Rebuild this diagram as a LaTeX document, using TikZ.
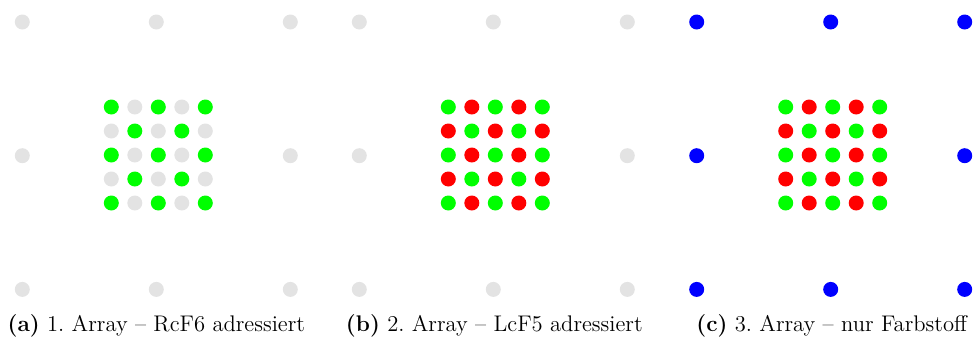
\documentclass[tikz,border=0pt]{standalone}
\begin{document}
\begin{tikzpicture}[x=0.5pt,y=-0.5pt]
\definecolor{dotgray}{HTML}{E3E3E3}
\definecolor{dotgreen}{HTML}{00FF00}
\definecolor{dotred}{HTML}{FF0000}
\definecolor{dotblue}{HTML}{0000FF}
\tikzset{dot/.style={circle,inner sep=0pt,minimum size=7.5pt,fill=#1,draw=none},
  caption/.style={anchor=base,inner sep=0pt,font=\fontsize{11.3pt}{13pt}\selectfont}}
\useasboundingbox (0,0) rectangle (974,338);
% panels: index, center x, outer colour, off-colour in grid
\foreach \p/\cx/\oc/\gc in {a/156.3/dotgray/dotgray, b/493.3/dotgray/dotred, c/830.7/dotblue/dotred}{
  % outer dots
  \foreach \i/\dx in {1/-134,2/0,3/134}{
    \foreach \j/\dy in {1/-133.7,2/0,3/133.7}{
      \pgfmathtruncatemacro{\skipit}{(\i==2)&&(\j==2)}
      \ifnum\skipit=0
        \node[dot=\oc] (\p-o-\i-\j) at (\cx+\dx,155.7+\dy) {};
      \fi
    }
  }
  % centre grid
  \foreach \i in {0,...,4}{
    \foreach \j in {0,...,4}{
      \pgfmathtruncatemacro{\parity}{mod(\i+\j,2)}
      \ifnum\parity=0
        \node[dot=dotgreen] (\p-g-\i-\j) at (\cx+2+23.5*\i-47,155+24*\j-48) {};
      \else
        \node[dot=\gc] (\p-g-\i-\j) at (\cx+2+23.5*\i-47,155+24*\j-48) {};
      \fi
    }
  }
}
\node[caption] (capa) at (156.3,331) {\textbf{(a)} 1.\ Array -- RcF6 adressiert};
\node[caption] (capb) at (494.3,331) {\textbf{(b)} 2.\ Array -- LcF5 adressiert};
\node[caption] (capc) at (831.7,331) {\textbf{(c)} 3.\ Array -- nur Farbstoff};
\end{tikzpicture}
\end{document}
